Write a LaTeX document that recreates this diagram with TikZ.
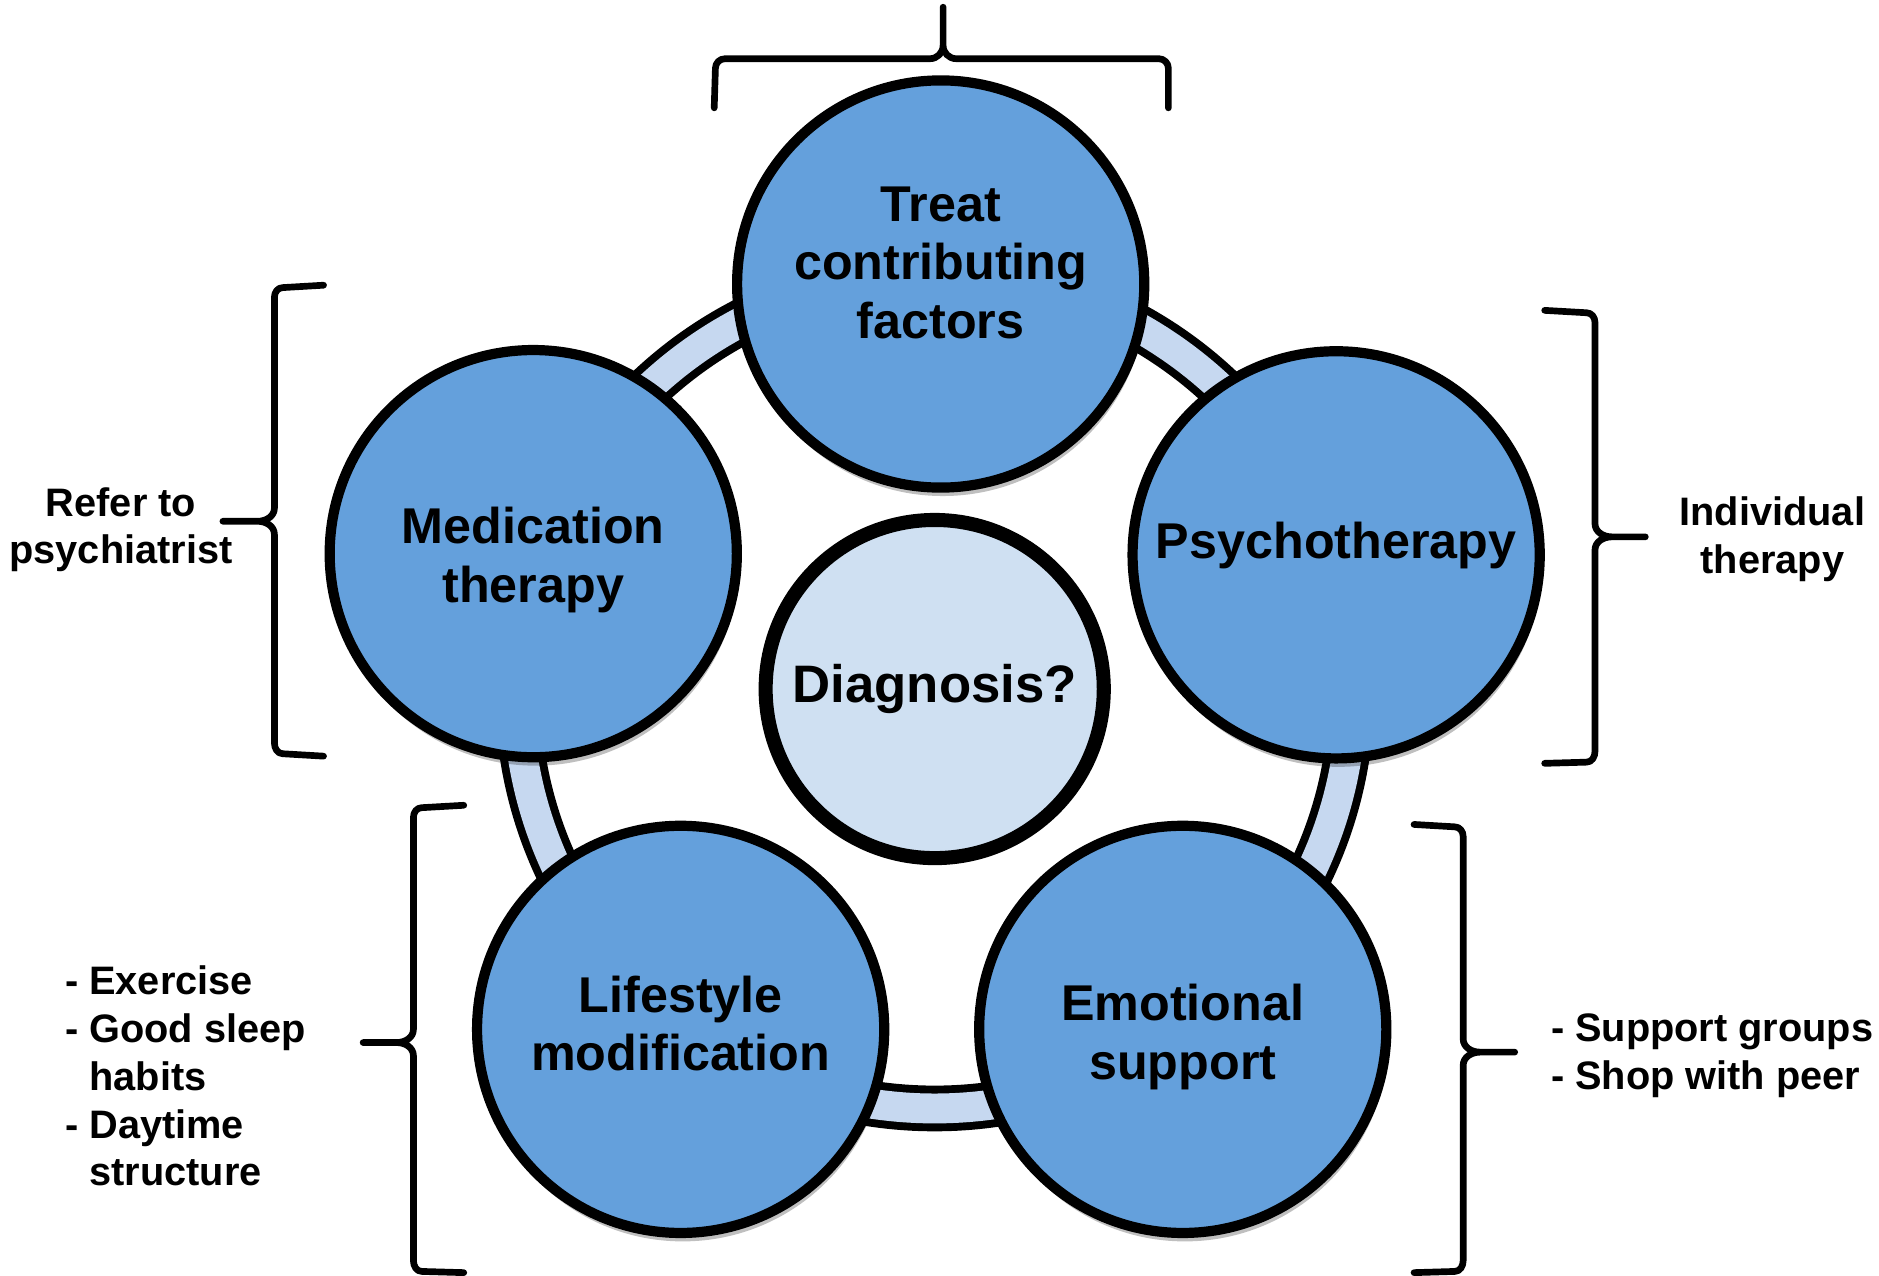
\documentclass[tikz,border=0pt]{standalone}
\usepackage{fontspec}
\setmainfont{Liberation Sans}
\usetikzlibrary{shadows}
\definecolor{stepblue}{RGB}{100,160,220}
\definecolor{hubblue}{RGB}{207,224,242}
\definecolor{ringblue}{RGB}{198,216,240}
\tikzset{
    treatment/.style={draw, circle, line width=2.9pt, fill=stepblue, minimum size=4.07cm, inner sep=0pt,
        drop shadow={shadow xshift=0.6pt, shadow yshift=-2.4pt, opacity=0.25, fill=black}},
    circletext/.style={align=center, font=\bfseries\fontsize{14.3}{16.7}\selectfont},
    hub/.style={draw, circle, line width=4pt, fill=hubblue, minimum size=3.38cm, inner sep=0pt,
        font=\bfseries\fontsize{15}{18}\selectfont},
    sidenote/.style={align=center, font=\bfseries\fontsize{11.3}{13.6}\selectfont},
    bracket/.style={line width=1.9pt, line cap=round, line join=round}
}
\begin{document}
\begin{tikzpicture}[x=0.01198cm, y=-0.01198cm]
        \useasboundingbox (0,0) rectangle (1568,1064);

        \coordinate (ringc) at (780,577);
        \draw[line width=13pt] (ringc) circle[radius=348];
        \draw[ringblue, line width=8.5pt] (ringc) circle[radius=348];

        \node[hub] (diag) at (780,575) {Diagnosis?};
        \node[treatment, label={[circletext, yshift=6pt]center:{Treat\\contributing\\factors}}] (factors) at (785,237) {};
        \node[treatment, label={[circletext, yshift=-1.9pt]center:{Medication\\therapy}}] (medic) at (445,462) {};
        \node[treatment, label={[circletext, yshift=2.7pt]center:{Psychotherapy}}] (psycho) at (1115,463) {};
        \node[treatment, label={[circletext, yshift=1.7pt]center:{Lifestyle\\modification}}] (life) at (568,859) {};
        \node[treatment, label={[circletext, yshift=-2.2pt]center:{Emotional\\support}}] (emo) at (987,859) {};

        \node[sidenote] (refer) at (101,442) {Refer to\\psychiatrist};
        \node[sidenote] (indiv) at (1479,450) {Individual\\therapy};
        \node[sidenote, align=left, anchor=west] (habits) at (44,898) {- Exercise\\- Good sleep\\\hphantom{-~}habits\\- Daytime\\\hphantom{-~}structure};
        \node[sidenote, align=left, anchor=west] (peer) at (1284,881) {- Support groups\\- Shop with peer};

        % braces
        \draw[bracket] (596,90) -- (597,57) to[out=90,in=180] (605,49) -- (776,49) to[out=0,in=-90] (787,38) -- (787,6)
            -- (787,38) to[out=-90,in=180] (798,49) -- (967,49) to[out=0,in=90] (975,57) -- (975,90);
        \draw[bracket] (270,238) -- (236,240) to[out=180,in=90] (229,248) -- (229,424) to[out=-90,in=0] (215,435) -- (186,435)
            -- (215,435) to[out=0,in=90] (229,446) -- (229,620) to[out=-90,in=180] (236,629) -- (270,631);
        \draw[bracket] (1289,259) -- (1324,261) to[out=0,in=90] (1331,269) -- (1331,437) to[out=-90,in=180] (1345,448) -- (1373,448)
            -- (1345,448) to[out=180,in=90] (1331,459) -- (1331,627) to[out=-90,in=0] (1324,636) -- (1289,637);
        \draw[bracket] (387,672) -- (352,674) to[out=180,in=90] (345,682) -- (345,859) to[out=-90,in=0] (331,870) -- (303,870)
            -- (331,870) to[out=0,in=90] (345,881) -- (345,1052) to[out=-90,in=180] (352,1061) -- (387,1062);
        \draw[bracket] (1180,688) -- (1214,690) to[out=0,in=90] (1221,698) -- (1221,867) to[out=-90,in=180] (1235,878) -- (1264,878)
            -- (1235,878) to[out=180,in=90] (1221,889) -- (1221,1052) to[out=-90,in=0] (1214,1061) -- (1180,1062);
    \end{tikzpicture}
\end{document}
